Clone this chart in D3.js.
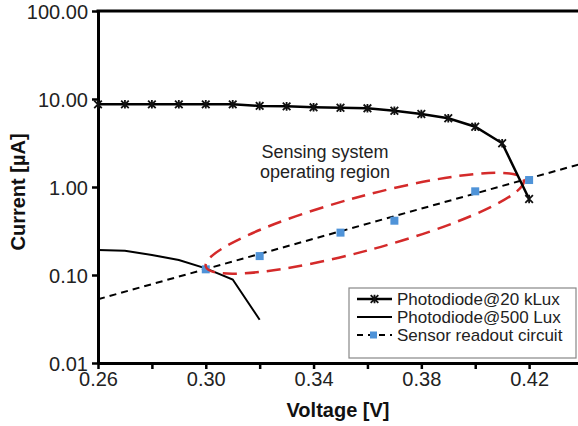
<!DOCTYPE html>
<html>
<head>
<meta charset="utf-8">
<script src="https://cdn.jsdelivr.net/npm/d3@7"></script>
<style>
  html, body { margin: 0; padding: 0; background: #fff; }
  svg { display: block; font-family: "Liberation Sans", Arial, sans-serif; }
</style>
</head>
<body>
<svg id="chart" width="578" height="426"></svg>
<script>
// ---- data ----
const kluxV = [0.26,0.27,0.28,0.29,0.30,0.31,0.32,0.33,0.34,0.35,0.36,0.37,0.38,0.39,0.40,0.41,0.42];
const kluxI = [8.7,8.7,8.7,8.7,8.7,8.7,8.35,8.25,8.05,7.96,7.84,7.36,6.76,6.04,4.84,3.14,0.73];
const luxV = [0.26,0.27,0.28,0.29,0.30,0.31,0.32];
const luxI = [0.192,0.189,0.169,0.148,0.119,0.089,0.031];
const sensorV = [0.30,0.32,0.35,0.37,0.40,0.42];
const sensorI = [0.116,0.164,0.303,0.414,0.893,1.20];
const sensorLineV = [0.26,0.44];
const sensorLineI = [0.053,1.86];
const regionV = [0.300,0.418];
const regionI = [0.125,1.20];
const yTicks = [0.01,0.1,1,10,100];
const xTicks = [0.26,0.28,0.30,0.32,0.34,0.36,0.38,0.40,0.42];
const xLabels = ["0.26","","0.30","","0.34","","0.38","","0.42"];
const legendLabels = ["Photodiode@20 kLux","Photodiode@500 Lux","Sensor readout circuit"];
const annotation = ["Sensing system","operating region"];

// ---- scales ----
const svg = d3.select("#chart");
const x = d3.scaleLinear().domain([0.26,0.44]).range([98,583]);
const y = d3.scaleLog().domain([0.01,100]).range([363,11]);
const fmt = d3.format(".2f");

// ---- axes ----
const yAxis = svg.append("g").attr("transform","translate(98,0)")
  .call(d3.axisLeft(y).tickValues(yTicks).tickFormat(fmt).tickSizeInner(6).tickSizeOuter(0).tickPadding(4));
const xAxis = svg.append("g").attr("transform","translate(0,363)")
  .call(d3.axisBottom(x).tickValues(xTicks).tickFormat((d,i)=>xLabels[i]).tickSizeInner(6).tickSizeOuter(0).tickPadding(3));
[yAxis,xAxis].forEach(g=>{
  g.select(".domain").attr("stroke","#000").attr("stroke-width",3);
  g.selectAll(".tick line").attr("stroke","#000").attr("stroke-width",2.5);
  g.selectAll(".tick text").attr("fill","#222").style("font-size","20px").style("font-family","Liberation Sans, Arial, sans-serif");
});
yAxis.selectAll(".tick text").attr("dy","0.35em");
// top frame line
svg.append("line").attr("x1",x(0.26)-1.5).attr("x2",x(0.44)).attr("y1",y(100)).attr("y2",y(100))
  .attr("stroke","#000").attr("stroke-width",3);

// ---- sensor readout dashed line ----
const lineGen = d3.line().x(d=>x(d[0])).y(d=>y(d[1]));
svg.append("path").datum(d3.zip(sensorLineV,sensorLineI)).attr("d",lineGen)
  .attr("fill","none").attr("stroke","#000").attr("stroke-width",2).attr("stroke-dasharray","7,5");

// ---- 500 lux ----
svg.append("path").datum(d3.zip(luxV,luxI)).attr("d",lineGen)
  .attr("fill","none").attr("stroke","#000").attr("stroke-width",2);

// ---- sensor points ----
svg.append("g").selectAll("rect").data(d3.zip(sensorV,sensorI)).join("rect")
  .attr("x",d=>x(d[0])-4).attr("y",d=>y(d[1])-4).attr("width",8).attr("height",8)
  .attr("fill","#4f93d8");

// ---- operating region ellipse ----
const p1 = [x(regionV[0]), y(regionI[0])], p2 = [x(regionV[1]), y(regionI[1])];
const cx = (p1[0]+p2[0])/2, cy = (p1[1]+p2[1])/2;
const rx = Math.hypot(p2[0]-p1[0], p2[1]-p1[1])/2;
const ang = Math.atan2(p2[1]-p1[1], p2[0]-p1[0])*180/Math.PI;
svg.append("ellipse").attr("cx",cx).attr("cy",cy).attr("rx",rx).attr("ry",27)
  .attr("transform",`rotate(${ang},${cx},${cy})`)
  .attr("fill","none").attr("stroke","#d42a2a").attr("stroke-width",2.5).attr("stroke-dasharray","14,8");

// ---- 20 kLux ----
svg.append("path").datum(d3.zip(kluxV,kluxI)).attr("d",lineGen)
  .attr("fill","none").attr("stroke","#000").attr("stroke-width",2.5);
function star(g, px, py){
  const s=3.8;
  g.append("path").attr("d",`M${px-s},${py-s}L${px+s},${py+s}M${px-s},${py+s}L${px+s},${py-s}M${px},${py-s-0.5}L${px},${py+s+0.5}`)
    .attr("stroke","#111").attr("stroke-width",1.8).attr("fill","none");
}
const mk = svg.append("g");
d3.zip(kluxV,kluxI).forEach(d=>star(mk, x(d[0]), y(d[1])));

// ---- annotation ----
svg.append("text").attr("x",325).attr("y",0).attr("text-anchor","middle")
  .style("font-size","18px").attr("fill","#222")
  .selectAll("tspan").data(annotation).join("tspan")
  .attr("x",325).attr("y",(d,i)=>158+i*20).text(d=>d);

// ---- axis titles ----
svg.append("text").attr("x",338).attr("y",417).attr("text-anchor","middle")
  .style("font-size","20px").style("font-weight","bold").attr("fill","#111").text("Voltage [V]");
svg.append("text").attr("transform","translate(25,192) rotate(-90)").attr("text-anchor","middle")
  .style("font-size","20px").style("font-weight","bold").attr("fill","#111").text("Current [µA]");

// ---- legend ----
const lg = svg.append("g");
lg.append("rect").attr("x",349).attr("y",288).attr("width",227).attr("height",70)
  .attr("fill","#fff").attr("stroke","#888").attr("stroke-width",1.2);
const rowsY = [299,317,335];
legendLabels.forEach((t,i)=>{
  const ry = rowsY[i];
  if(i<2){
    lg.append("line").attr("x1",357).attr("x2",392).attr("y1",ry).attr("y2",ry)
      .attr("stroke","#000").attr("stroke-width",i===0?2.5:2);
  } else {
    lg.append("line").attr("x1",357).attr("x2",392).attr("y1",ry).attr("y2",ry)
      .attr("stroke","#000").attr("stroke-width",2).attr("stroke-dasharray","6,5");
    lg.append("rect").attr("x",370).attr("y",ry-3.5).attr("width",7).attr("height",7).attr("fill","#4f93d8");
  }
  if(i===0) star(lg, 374.5, ry);
  lg.append("text").attr("x",397).attr("y",ry).attr("dy","0.35em")
    .style("font-size","17px").attr("fill","#222").text(t);
});
</script>
</body>
</html>
